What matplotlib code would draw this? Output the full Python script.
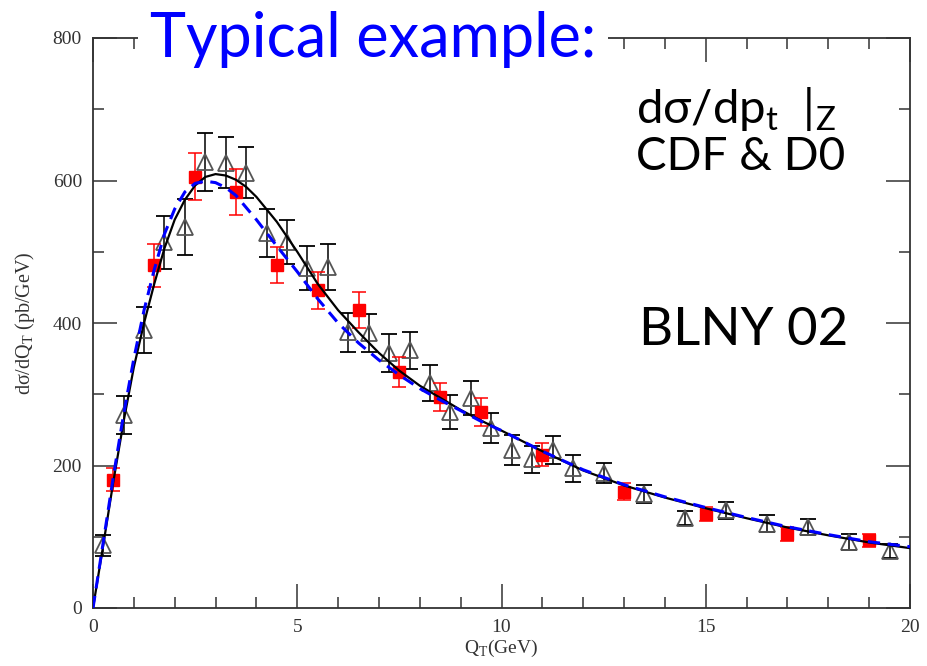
import matplotlib
matplotlib.use("Agg")
import matplotlib.pyplot as plt
from matplotlib.ticker import MultipleLocator

# CDF data (open triangles)
cdf_q = [0.25, 0.75, 1.25, 1.75, 2.25, 2.75, 3.25, 3.75, 4.25, 4.75, 5.25, 5.75,
         6.25, 6.75, 7.25, 7.75, 8.25, 8.75, 9.25, 9.75, 10.25, 10.75, 11.25, 11.75,
         12.5, 13.5, 14.5, 15.5, 16.5, 17.5, 18.5, 19.5]
cdf_val = [88, 271, 390, 513, 535, 626, 625, 611, 526, 514, 477, 479,
           387, 386, 358, 362, 316, 275, 295, 253, 222, 209, 222, 196,
           189, 160, 126, 137, 118, 114, 93, 80]
cdf_err = [15, 27, 32, 37, 39, 41, 36, 36, 34, 31, 31, 32,
           27, 26, 27, 26, 25, 24, 24, 21, 21, 19, 20, 19,
           14, 12, 10, 12, 12, 11, 11, 10]

# D0 data (red squares)
d0_q = [0.5, 1.5, 2.5, 3.5, 4.5, 5.5, 6.5, 7.5, 8.5, 9.5, 11, 13, 15, 17, 19]
d0_val = [180, 481, 605, 584, 481, 446, 418, 331, 296, 275, 215, 163, 132, 104, 95]
d0_err = [16, 30, 33, 32, 25, 26, 25, 21, 20, 20, 16, 12, 10, 10, 9]

# theory curves
curve_q = [0, 0.25, 0.5, 0.75, 1.0, 1.25, 1.5, 1.75, 2.0, 2.25, 2.5, 2.75, 3.0,
           3.25, 3.5, 3.75, 4.0, 4.5, 5.0, 5.5, 6.0, 6.5, 7.0, 7.5, 8.0, 8.5,
           9.0, 9.5, 10, 11, 12, 13, 14, 15, 16, 17, 18, 19, 20]
black_val = [0, 88, 178, 262, 338, 400, 455, 505, 545, 573, 593, 605, 609,
             607, 601, 591, 577, 542, 500, 455, 418, 387, 358, 333, 312, 295,
             278, 263, 249, 220, 193, 172, 155, 140, 126, 113, 102, 92, 84]
blue_val = [0, 92, 185, 272, 350, 418, 475, 525, 560, 584, 596, 599, 597,
            590, 579, 562, 545, 508, 472, 434, 400, 372, 348, 327, 308, 292,
            277, 262, 249, 220, 194, 173, 156, 141, 127, 114, 103, 93, 86]

fig = plt.figure(figsize=(9.27, 6.66), dpi=100)
ax = fig.add_axes([93 / 927, 1 - 608 / 666, 817 / 927, 570 / 666])

ax.errorbar(cdf_q, cdf_val, yerr=cdf_err, fmt="^", ms=12, mfc="none", mec="#555555",
            mew=1.3, ecolor="black", elinewidth=1.1, capsize=6, capthick=1.1, zorder=3)
ax.errorbar(d0_q, d0_val, yerr=d0_err, fmt="s", ms=9, color="red", mec="red",
            ecolor="red", elinewidth=1.1, capsize=5, capthick=1.1, zorder=4)
ax.plot(curve_q, black_val, color="black", lw=1.6, zorder=5)
ax.plot(curve_q, blue_val, color="blue", lw=2.2, ls=(0, (4, 2.5)), zorder=6)

ax.set_xlim(0, 20)
ax.set_ylim(0, 800)
ax.xaxis.set_major_locator(MultipleLocator(5))
ax.xaxis.set_minor_locator(MultipleLocator(1))
ax.yaxis.set_major_locator(MultipleLocator(200))
ax.yaxis.set_minor_locator(MultipleLocator(100))
ax.tick_params(which="both", direction="in", top=True, right=True, color="#333333",
               width=1.1, labelsize=14, pad=8)
ax.tick_params(which="major", length=17)
ax.tick_params(which="minor", length=8)
for lab in ax.get_xticklabels() + ax.get_yticklabels():
    lab.set_family("Liberation Serif")
    lab.set_color("#333333")
for s in ax.spines.values():
    s.set_color("#333333")
    s.set_linewidth(1.3)

ax.set_xlabel("Q$_\\mathregular{T}$(GeV)", family="Liberation Serif", fontsize=14,
              color="#333333", labelpad=1)
ax.set_ylabel("d\u03c3/dQ$_\\mathregular{T}$ (pb/GeV)", family="Liberation Serif",
              fontsize=14.5, color="#333333", labelpad=11)

big = ["Lato", "DejaVu Sans"]
fig.text(150 / 927, 1 - 57 / 666, "Typical example:", family=big, fontsize=44,
         color="blue", ha="left", va="baseline",
         bbox=dict(facecolor="white", edgecolor="none", pad=9))
fig.text(636 / 927, 1 - 123 / 666,
         "d\u03c3/dp$_\\mathregular{t}$  |$_\\mathregular{Z}$",
         family=big, fontsize=34, color="black", ha="left", va="baseline")
fig.text(636 / 927, 1 - 170 / 666, "CDF & D0", family=big, fontsize=33,
         color="black", ha="left", va="baseline")
fig.text(639 / 927, 1 - 345 / 666, "BLNY 02", family=big, fontsize=38,
         color="black", ha="left", va="baseline")

fig.savefig("out.png", dpi=100)
